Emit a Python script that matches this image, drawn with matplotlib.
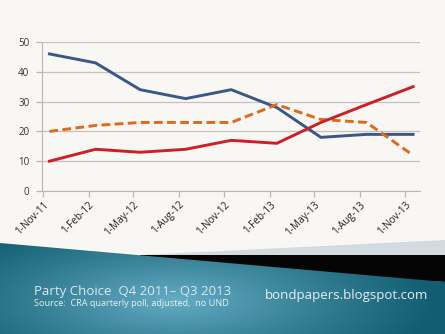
import numpy as np
import matplotlib
matplotlib.use("Agg")
import matplotlib.pyplot as plt
from matplotlib.patches import Polygon
import datetime as dt

# ---- data ----
tick_dates = ["2011-11-01", "2012-02-01", "2012-05-01", "2012-08-01", "2012-11-01",
              "2013-02-01", "2013-05-01", "2013-08-01", "2013-11-01"]
tick_labels = ["1-Nov-11", "1-Feb-12", "1-May-12", "1-Aug-12", "1-Nov-12",
               "1-Feb-13", "1-May-13", "1-Aug-13", "1-Nov-13"]
poll_dates = ["2011-11-14", "2012-02-15", "2012-05-15", "2012-08-15", "2012-11-15",
              "2013-02-15", "2013-05-15", "2013-08-15", "2013-11-17"]
pc = [46, 43, 34, 31, 34, 28, 18, 19, 19]
liberal = [10, 14, 13, 14, 17, 16, 23, 29, 35]
ndp = [20, 22, 23, 23, 23, 29, 24, 23, 12]
y_ticks = [0, 10, 20, 30, 40, 50]

W, H = 445, 334
fig = plt.figure(figsize=(W / 100, H / 100), dpi=100)
fig.patch.set_facecolor("#f8f7f4")

# ---- background decoration ----
bg = fig.add_axes([0, 0, 1, 1], zorder=0)
bg.set_xlim(0, W)
bg.set_ylim(H, 0)
bg.axis("off")
bg.add_patch(Polygon([[140, 255], [445, 240], [445, 282], [140, 255]],
                     closed=True, facecolor="#d3dbe1", edgecolor="none"))
bg.add_patch(Polygon([[140, 255], [445, 255], [445, 282], [140, 265]],
                     closed=True, facecolor="#050505", edgecolor="none"))
teal = Polygon([[0, 243], [445, 282], [445, 334], [0, 334]], closed=True,
               facecolor="none", edgecolor="none")
bg.add_patch(teal)
yy, xx = np.mgrid[230:335, 0:446]
d = np.sqrt(((xx - 175) / 260.0) ** 2 + ((yy - 300) / 85.0) ** 2)
t = np.clip(d, 0, 1) ** 0.9
c_in = np.array([0x66, 0xae, 0xc6]) / 255
c_out = np.array([0x12, 0x5d, 0x71]) / 255
img = c_in[None, None, :] * (1 - t[..., None]) + c_out[None, None, :] * t[..., None]
im = bg.imshow(img, extent=(0, 446, 335, 230), origin="upper", aspect="auto", zorder=1)
im.set_clip_path(teal)

bg.text(34, 291, "Party Choice  Q4 2011\u2013 Q3 2013", color="#dbe9ee",
        fontsize=9.5, family="Open Sans", va="center", ha="left", zorder=3)
bg.text(34, 303, "Source:  CRA quarterly poll, adjusted,  no UND", color="#e6eff2",
        fontsize=6.6, family="Open Sans", va="center", ha="left", zorder=3)
bg.text(265, 296, "bondpapers.blogspot.com", color="#e6eff2",
        fontsize=9.5, family="Open Sans", va="center", ha="left", zorder=3)

# ---- chart ----
ax = fig.add_axes([42 / W, 1 - 191 / H, (420 - 42) / W, (191 - 42) / H], zorder=2)
ax.set_facecolor("none")
td = [dt.datetime.strptime(s, "%Y-%m-%d") for s in tick_dates]
pd_ = [dt.datetime.strptime(s, "%Y-%m-%d") for s in poll_dates]

ax.plot(pd_, pc, color="#3b5787", lw=2.1, zorder=3)
ax.plot(pd_, liberal, color="#cc1f26", lw=2.1, zorder=4)
ax.plot(pd_, ndp, color="#e0691b", lw=2.1, ls=(0, (3.0, 1.5)), zorder=3)

ax.set_ylim(0, 50)
ax.set_xlim(td[0] - dt.timedelta(days=2), td[-1] + dt.timedelta(days=30))
ax.set_yticks(y_ticks)
ax.set_yticklabels([str(v) for v in y_ticks], fontsize=7, family="Open Sans", color="#333333")
ax.set_xticks(td)
ax.set_xticklabels(tick_labels, rotation=45, ha="right", rotation_mode="anchor",
                   fontsize=7.2, family="Open Sans", color="#222222")
ax.yaxis.grid(True, color="#c7c1bd", lw=0.9)
ax.set_axisbelow(True)
for s in ["top", "right"]:
    ax.spines[s].set_visible(False)
ax.spines["left"].set_color("#bdb7b3")
ax.spines["bottom"].set_color("#bdb7b3")
ax.tick_params(axis="both", color="#bdb7b3", length=4, width=0.9)
ax.tick_params(axis="y", pad=5)
ax.tick_params(axis="x", pad=2)

fig.savefig("out.png", dpi=100, facecolor=fig.get_facecolor())
